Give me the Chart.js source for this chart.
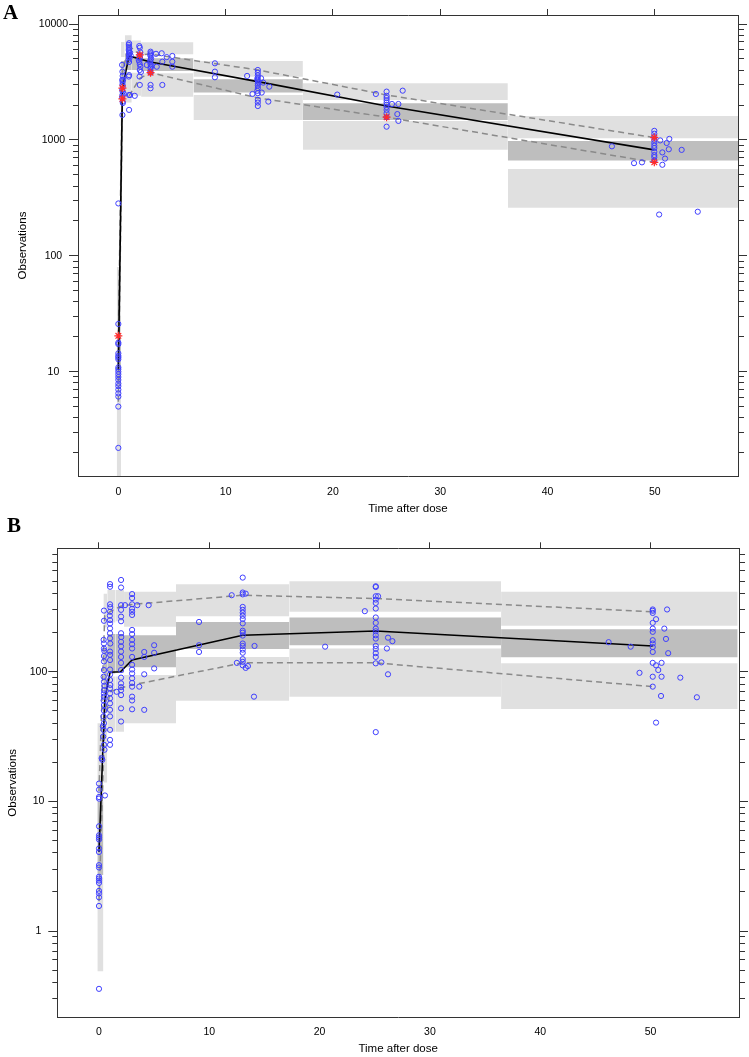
<!DOCTYPE html>
<html><head><meta charset="utf-8">
<script src="https://cdn.jsdelivr.net/npm/chart.js@4/dist/chart.umd.min.js"></script>
<style>
html,body{margin:0;padding:0;background:#fff;}
#wrap{position:relative;width:749px;height:1057px;overflow:hidden;background:#fff;}
.panel{position:absolute;left:0;width:749px;}
#pA{top:0;height:520px;}
#pB{top:520px;height:537px;}
.lab{position:absolute;font-family:'Liberation Serif','Times New Roman',serif;font-weight:bold;font-size:21px;line-height:1;color:#000;}
</style></head><body>
<div id="wrap">
<div class="panel" id="pA"><canvas id="cA" width="749" height="520"></canvas></div>
<div class="panel" id="pB"><canvas id="cB" width="749" height="537"></canvas></div>
<div class="lab" style="left:3px;top:2px">A</div>
<div class="lab" style="left:7px;top:515px">B</div>
</div>
<script>
// ---------------- Panel A data ----------------
const A_xTicks = [0, 10, 20, 30, 40, 50];
const A_yMajor = [10, 100, 1000, 10000];
const A_yLabels = ['10', '100', '1000', '10000'];
const A_binL = [-0.15, 0.25, 0.6, 1.25, 2.12, 7.0, 17.2, 36.3];
const A_binR = [0.25, 0.6, 1.25, 2.12, 7.0, 17.2, 36.3, 57.8];
const A_ci95Hi = [80, 7000, 8000, 7200, 6950, 4797, 3083, 1611];
const A_ci95Lo = [22, 5200, 6000, 5650, 5480, 3515, 2213, 1035];
const A_ci50Hi = [21, 4800, 5600, 5300, 5060, 3335, 2069, 980];
const A_ci50Lo = [7.5, 3300, 4000, 4000, 3935, 2558, 1486, 664];
const A_ci05Hi = [7, 3100, 3800, 3800, 3760, 2443, 1459, 562];
const A_ci05Lo = [1, 2350, 2100, 2400, 2360, 1486, 821, 260];
const A_pctX = [0, 0.38, 1.0, 2.0, 3.0, 13.0, 25.0, 49.95];
const A_obs50 = [10.4, 2800, 5300, 4980, 4700, 3185, 1964, 820];
const A_obs95 = [20.4, 3900, 6500, 5410, 5500, 4013, 2443, 1047];
const A_obs05 = [5.5, 2260, 2400, 3400, 3800, 2302, 1570, 640];
const A_starX = [0, 0.38, 0.38, 2.0, 3.0, 25.0, 49.95, 49.95];
const A_starY = [20.4, 2800, 2260, 5410, 3800, 1570, 1047, 640];
const A_obs = [
 [0,25.8],[0,17.8],[0,17.3],[0,14.4],[0,13.7],[0,13.3],[0,12.8],[0,10.9],[0,10.5],[0,10.0],[0,9.5],[0,9.0],[0,8.5],[0,7.9],[0,7.5],[0,7.0],[0,6.5],[0,6.1],[0,5.0],[0,2.2],[0,283],
 [0.35,4435],[0.38,3880],[0.4,3565],[0.36,3290],[0.4,3150],[0.38,3000],[0.42,2900],[0.36,2700],[0.4,2600],[0.38,2440],[0.35,2330],[0.4,2140],[0.42,2080],[0.38,1640],[0.45,3300],[0.5,2500],
 [1.0,6820],[0.98,6600],[1.0,6370],[1.02,6150],[0.97,5950],[1.0,5800],[1.03,5600],[0.98,5450],[1.0,5250],[1.05,5100],[0.95,4900],[1.0,4700],[0.97,3520],[1.0,3620],[1.0,2440],[1.0,1815],[1.1,5650],[1.15,5350],[1.09,2440],[1.53,2400],
 [1.95,6450],[2.0,6240],[2.05,5700],[1.98,5400],[2.0,5200],[2.02,5060],[1.95,4730],[2.0,4500],[2.05,4280],[2.0,4010],[1.98,3520],[2.0,2980],[2.1,3850],[1.9,4900],
 [3.0,5770],[3.02,5600],[2.98,5450],[3.0,5300],[3.05,5050],[3.0,4900],[2.97,4730],[3.0,4500],[3.03,4280],[3.0,4150],[2.98,3880],[3.0,3800],[3.0,2980],[3.0,2790],[3.1,4400],
 [2.65,4430],[3.51,5530],[3.58,4280],[4.04,5590],[4.10,4730],[4.10,2980],[4.51,5180],[5.03,5300],[5.03,4730],[5.03,4280],
 [9.0,4580],[9.0,3880],[9.0,3470],[12.0,3565],[12.5,2490],
 [13.0,4010],[13.0,3800],[13.0,3600],[13.0,3450],[12.95,3350],[13.0,3250],[13.05,3150],[13.0,3050],[13.0,2950],[13.0,2800],[12.95,2650],[13.0,2530],[13.0,2215],[13.0,2100],[13.0,1960],[13.3,3400],[13.5,3120],[14.07,2880],[13.98,2140],[13.36,2560],
 [20.4,2460],[24.0,2490],
 [25.0,2610],[25.0,2400],[25.0,2300],[25.0,2200],[25.0,2100],[25.0,2010],[25.0,1920],[25.0,1815],[25.0,1700],[25.0,1570],[25.0,1300],[26.5,2660],[25.5,2040],[26.1,2040],[26.0,1670],[26.1,1458],
 [49.95,1197],[49.95,1130],[49.95,1060],[49.95,1000],[49.95,940],[49.95,890],[49.95,850],[49.95,790],[49.95,740],[49.95,710],[49.95,660],[46.0,880],[48.06,630],[48.8,640],[50.5,990],[51.1,940],[51.35,1020],[51.3,830],[50.7,780],[50.95,690],[50.7,610],[50.4,227],[52.5,820],[54.0,240]
];

// ---------------- Panel B data ----------------
const B_xTicks = [0, 10, 20, 30, 40, 50];
const B_yMajor = [1, 10, 100];
const B_yLabels = ['1', '10', '100'];
const B_binL = [-0.15, 0.4, 0.75, 1.5, 2.27, 6.98, 17.25, 36.45];
const B_binR = [0.4, 0.75, 1.5, 2.27, 6.98, 17.25, 36.45, 57.9];
const B_ci95Hi = [40, 400, 427, 427, 413, 473, 499, 413];
const B_ci95Lo = [11, 220, 240, 245, 222, 268, 290, 226];
const B_ci50Hi = [10, 150, 195, 195, 191, 242, 262, 213];
const B_ci50Lo = [2.7, 48, 97, 98, 108, 150, 160, 129];
const B_ci05Hi = [2.6, 45, 92, 92, 94.3, 130, 151, 116];
const B_ci05Lo = [0.49, 14, 34.4, 34.4, 40, 59.8, 64.2, 51.6];
const B_pctX = [0, 0.52, 1.0, 1.95, 3.0, 13.03, 25.09, 50.2];
const B_obs50 = [4.07, 60, 99, 100, 123, 191, 206, 158];
const B_obs95 = [12, 270, 290, 320, 330, 389, 367, 290];
const B_obs05 = [1.7, 40, 70, 75, 79, 117, 117, 76.7];
const B_obs = [
 [0,13.7],[0,12.3],[0,10.8],[0,10.5],[0,6.42],[0,5.47],[0,5.26],[0,5.08],[0,4.33],[0,4.07],[0,3.22],[0,3.09],[0,2.62],[0,2.54],[0,2.45],[0,2.35],[0,2.04],[0,1.95],[0,1.82],[0,1.56],[0,0.358],[0.54,11.1],[0.24,21.5],
 [0.45,296],[0.45,247],[0.42,176],[0.45,165],[0.45,151],[0.48,145],[0.45,132],[0.45,120],[0.45,103],[0.42,91.5],[0.45,83.7],[0.48,78],[0.45,72],[0.45,68],[0.45,64.2],[0.42,60],[0.45,55.3],[0.45,50],[0.4,45.2],[0.45,40.1],[0.42,35.6],[0.38,31.6],[0.45,27.3],[0.3,20.9],[0.5,25],[0.35,38],
 [1.0,474],[1.0,452],[1.0,331],[1.02,315],[1.0,290],[0.98,270],[1.0,250],[1.0,235],[1.0,216],[1.0,198],[1.0,181],[1.02,165],[1.0,143],[1.0,135],[1.0,123],[1.0,104],[1.0,95],[1.0,86.3],[1.02,79],[1.0,74.5],[1.0,68],[1.0,62.3],[1.0,57],[1.0,50.8],[1.0,45.2],[1.0,35.6],[1.0,29.8],[1.0,27.3],[1.6,70],
 [2.0,510],[2.0,446],[2.0,326],[2.0,300],[2.0,266],[2.0,245],[2.0,198],[2.02,185],[2.0,170],[2.0,157],[2.0,143],[2.0,130],[2.0,117],[2.0,103],[2.0,90],[2.0,81.3],[2.0,76],[2.0,72],[2.0,66],[2.0,52.2],[2.0,41.3],[2.36,326],
 [3.0,397],[3.0,370],[3.0,331],[3.0,305],[3.0,290],[3.0,274],[3.0,210],[3.0,195],[3.0,176],[3.0,163],[3.0,151],[3.0,130],[3.0,113],[3.0,104],[3.0,97],[3.0,89],[3.0,82],[3.0,76.7],[3.0,64.2],[3.0,60],[3.0,51.3],[3.47,326],[3.65,76.7],
 [4.5,326],[4.1,142],[4.1,130],[5.0,160],[5.0,140],[5.0,106],[4.1,95.5],[4.1,50.8],
 [9.07,242],[9.07,160],[9.07,142],
 [13.03,532],[13.03,408],[13.03,395],[13.03,316],[13.03,300],[13.03,285],[13.03,270],[13.03,255],[13.03,236],[13.03,207],[13.03,200],[13.03,190],[13.03,165],[13.03,158],[13.03,148],[13.03,140],[13.03,125],[13.03,119],[13.03,112],[12.03,389],[13.3,400],[13.3,107],[13.5,110.5],[12.5,117],[14.1,158],[14.05,64.2],
 [20.5,156],
 [25.09,456],[25.09,450],[25.09,382],[25.09,360],[25.09,339],[25.09,307],[25.09,262],[25.09,238],[25.09,215],[25.09,205],[25.09,191],[25.09,180],[25.09,158],[25.09,150],[25.09,139],[25.09,130],[25.09,116],[25.09,34.2],[24.1,293],[25.3,382],[26.2,183],[26.6,172],[26.1,151],[25.6,118],[26.2,95.5],
 [50.2,302],[50.2,295],[50.2,284],[50.2,238],[50.2,215],[50.2,203],[50.2,175],[50.2,165],[50.2,155],[50.2,142],[50.2,117],[50.2,91.5],[50.2,76.7],[51.5,302],[50.5,254],[51.25,215],[51.4,179],[51.6,139],[51.0,117],[50.5,112],[50.7,103],[51.0,91.5],[50.95,65],[50.5,40.5],[52.7,90],[54.2,63.5],[49.0,98],[46.2,169],[48.2,156]
];

// ---------------- helpers ----------------
const FONT = "'Liberation Sans', Arial, Helvetica, sans-serif";
const LIGHT = '#e0e0e0', DARK = '#bebebe';
const AXC = '#333333';

function isDecade(v) { const l = Math.log10(v); return Math.abs(l - Math.round(l)) < 1e-9; }
function logTickValues(min, max) {
  const t = [];
  for (let e = -3; e <= 5; e++) {
    for (let m = 1; m <= 9; m++) {
      const v = m * Math.pow(10, e);
      if (v >= min && v <= max) t.push(v);
    }
  }
  return t;
}
function boxSets(L, R, hi, lo, color) {
  const out = [];
  for (let i = 0; i < L.length; i++) {
    out.push({type: 'line', data: [{x: L[i], y: hi[i]}, {x: R[i], y: hi[i]}], fill: '+1',
      backgroundColor: color, borderColor: 'rgba(0,0,0,0)', borderWidth: 0, pointRadius: 0, order: 10});
    out.push({type: 'line', data: [{x: L[i], y: lo[i]}, {x: R[i], y: lo[i]}], fill: false,
      backgroundColor: 'rgba(0,0,0,0)', borderColor: 'rgba(0,0,0,0)', borderWidth: 0, pointRadius: 0, order: 10});
  }
  return out;
}
function lineSet(X, Y, color, width, dash, order) {
  return {type: 'line', data: X.map((x, i) => ({x: x, y: Y[i]})), borderColor: color, borderWidth: width,
    borderDash: dash, pointRadius: 0, fill: false, tension: 0, order: order};
}

function makePanel(id, P) {
  const ticksAll = logTickValues(P.ymin, P.ymax);
  const datasets = [];
  datasets.push({type: 'scatter', data: P.starX.map((x, i) => ({x: x, y: P.starY[i]})), pointStyle: 'star',
    pointRadius: 4, pointBorderColor: '#ff2b2b', pointBackgroundColor: '#ff2b2b', pointBorderWidth: 1.2, order: 1});
  datasets.push({type: 'scatter', data: P.obs.map(p => ({x: p[0], y: p[1]})), pointStyle: 'circle',
    pointRadius: 2.6, pointBorderColor: '#3f3fff', pointBackgroundColor: 'rgba(0,0,0,0)', pointBorderWidth: 1, order: 2});
  datasets.push(lineSet(P.pctX, P.med, '#000000', 1.6, [], 3));
  datasets.push(lineSet(P.pctX, P.p95, '#8a8a8a', 1.5, [6, 4], 4));
  datasets.push(lineSet(P.pctX, P.p05, '#8a8a8a', 1.5, [6, 4], 4));
  boxSets(P.binL, P.binR, P.c95h, P.c95l, LIGHT).forEach(d => datasets.push(d));
  boxSets(P.binL, P.binR, P.c50h, P.c50l, DARK).forEach(d => datasets.push(d));
  boxSets(P.binL, P.binR, P.c05h, P.c05l, LIGHT).forEach(d => datasets.push(d));

  const majLabel = (v) => { const i = P.yMajor.findIndex(m => Math.abs(m - v) / m < 1e-9); return i >= 0 ? P.yLabels[i] : ''; };
  const setX = s => { s.ticks = P.xTicks.map(v => ({value: v})); };
  const setY = s => { s.ticks = ticksAll.map(v => ({value: v, major: isDecade(v)})); };
  const tickFont = {family: FONT, size: 10.5};
  const titleFont = {family: FONT, size: 11.5};

  return new Chart(document.getElementById(id), {
    type: 'scatter',
    data: {datasets: datasets},
    options: {
      responsive: false, animation: false, events: [],
      layout: {padding: 0, autoPadding: false},
      plugins: {legend: {display: false}, tooltip: {enabled: false}},
      scales: {
        x: {type: 'linear', position: 'bottom', min: P.xmin, max: P.xmax, bounds: 'data',
          afterBuildTicks: setX, afterFit: s => { s.height = P.bottomH; },
          grid: {drawOnChartArea: false, drawTicks: false},
          border: {display: true, color: AXC, width: 1},
          ticks: {padding: P.xPad, autoSkip: false, maxRotation: 0, font: tickFont, color: '#000', callback: v => String(v)},
          title: {display: true, text: 'Time after dose', font: titleFont, color: '#000', padding: {top: 0, bottom: P.xTitlePad}}},
        x2: {type: 'linear', axis: 'x', position: 'top', min: P.xmin, max: P.xmax, bounds: 'data',
          afterBuildTicks: setX, afterFit: s => { s.height = P.topH; },
          grid: {drawOnChartArea: false, drawTicks: true, tickLength: 6, tickColor: AXC, tickWidth: 1},
          border: {display: true, color: AXC, width: 1},
          ticks: {display: false}},
        y: {type: 'logarithmic', position: 'left', min: P.ymin, max: P.ymax, bounds: 'data',
          afterBuildTicks: setY, afterFit: s => { s.width = P.leftW; },
          grid: {drawOnChartArea: false, drawTicks: true, tickLength: 9, tickColor: AXC, tickWidth: 1,
            tickBorderDash: ctx => (ctx.tick && isDecade(ctx.tick.value)) ? [] : [0, 4, 5, 100]},
          border: {display: true, color: AXC, width: 1},
          ticks: {autoSkip: false, padding: 1, crossAlign: 'center', font: tickFont, color: '#000', callback: v => majLabel(v)},
          title: {display: true, text: 'Observations', font: titleFont, color: '#000', padding: {top: P.yTitlePad, bottom: 0}}},
        y2: {type: 'logarithmic', axis: 'y', position: 'right', min: P.ymin, max: P.ymax, bounds: 'data',
          afterBuildTicks: setY, afterFit: s => { s.width = P.rightW; },
          grid: {drawOnChartArea: false, drawTicks: true, tickLength: 9, tickColor: AXC, tickWidth: 1,
            tickBorderDash: ctx => (ctx.tick && isDecade(ctx.tick.value)) ? [] : [5, 100]},
          border: {display: true, color: AXC, width: 1},
          ticks: {display: false}}
      }
    }
  });
}

makePanel('cA', {
  xmin: -3.76, xmax: 57.75, ymin: 1.259, ymax: 11958,
  leftW: 78, rightW: 11, topH: 15, bottomH: 44, xPad: 9.4, xTitlePad: 4.1, yTitlePad: 16,
  xTicks: A_xTicks, yMajor: A_yMajor, yLabels: A_yLabels,
  binL: A_binL, binR: A_binR, c95h: A_ci95Hi, c95l: A_ci95Lo, c50h: A_ci50Hi, c50l: A_ci50Lo, c05h: A_ci05Hi, c05l: A_ci05Lo,
  pctX: A_pctX, med: A_obs50, p95: A_obs95, p05: A_obs05, starX: A_starX, starY: A_starY, obs: A_obs
});
makePanel('cB', {
  xmin: -3.78, xmax: 58.02, ymin: 0.216, ymax: 895,
  leftW: 57.3, rightW: 10, topH: 28.3, bottomH: 39.7, xPad: 8.7, xTitlePad: 1.1, yTitlePad: 5.6,
  xTicks: B_xTicks, yMajor: B_yMajor, yLabels: B_yLabels,
  binL: B_binL, binR: B_binR, c95h: B_ci95Hi, c95l: B_ci95Lo, c50h: B_ci50Hi, c50l: B_ci50Lo, c05h: B_ci05Hi, c05l: B_ci05Lo,
  pctX: B_pctX, med: B_obs50, p95: B_obs95, p05: B_obs05, starX: [], starY: [], obs: B_obs
});
</script>
</body></html>
